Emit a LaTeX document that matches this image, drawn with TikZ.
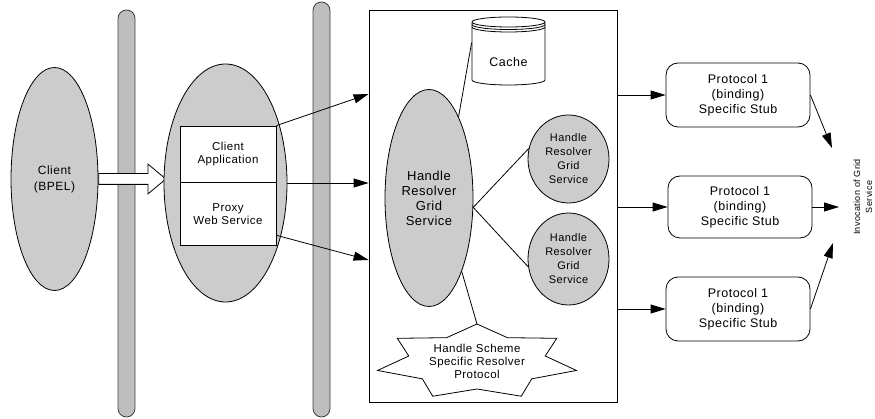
\documentclass[tikz,border=0pt]{standalone}
\usepackage{fontspec}
\setmainfont{Liberation Sans}[LetterSpace=4]
\usepackage{tikz}
\usetikzlibrary{shapes,arrows.meta,positioning}

\definecolor{shade}{RGB}{204,204,204}
\definecolor{pillarfill}{RGB}{190,190,190}

\begin{document}
\begin{tikzpicture}[x=1pt,y=1pt,line width=0.8pt,
	every node/.style={align=center},
	oval/.style={shape=ellipse, draw, fill=shade, inner sep=0pt},
	pillar/.style={draw=black!75, fill=pillarfill, rounded corners=8.5pt, minimum width=17pt, inner sep=0pt},
	panel/.style={draw, fill=white, minimum width=96pt, font=\fontsize{11.5}{13}\selectfont},
	stub/.style={draw, rounded corners=12pt, minimum width=144pt, minimum height=64pt, font=\fontsize{12.5}{15}\selectfont},
	arr/.style={-{Triangle[length=15pt,width=9pt]}}]
	\useasboundingbox (0,0) rectangle (875,-419);

	% firewalls
	\node[pillar, minimum height=407pt] (pillar1) at (126.5,-213.5) {};
	\node[pillar, minimum height=415pt] (pillar2) at (321.5,-209.5) {};

	% client side
	\node[oval, minimum width=87pt, minimum height=223pt, font=\fontsize{12}{16}\selectfont] (client) at (54.5,-179) {Client\\(BPEL)};
	\node[single arrow, draw, fill=white, inner sep=5pt, minimum height=67pt, single arrow head extend=9.5pt, single arrow tip angle=80, anchor=tail] (push) at (client.east) {};

	\node[oval, minimum width=123pt, minimum height=238pt] (gateway) at (225.5,-183) {};
	\node[panel, minimum height=56pt] (app) at (228,-154) {Client\\Application};
	\node[panel, minimum height=63pt, below=0pt of app] (proxy) {Proxy\\Web Service};

	% resolver
	\node[draw, fill=white, minimum width=248pt, minimum height=392pt] (resolver) at (493,-206) {};

	\draw[fill=white] (472,-22) -- (472,-80) arc[start angle=180, end angle=360, x radius=36.5, y radius=5] -- (545,-22) arc[start angle=0, end angle=360, x radius=36.5, y radius=5];
	\foreach \d in {2.5,5}
		\draw (472,-22-\d) arc[start angle=180, end angle=360, x radius=36.5, y radius=5];
	\node[minimum width=73pt, minimum height=46pt, font=\fontsize{12.5}{15}\selectfont] (cache) at (508.5,-62) {Cache};

	\node[oval, minimum width=88pt, minimum height=217pt, font=\fontsize{13}{15}\selectfont] (hrgs) at (429,-198) {Handle\\Resolver\\Grid\\Service};
	\node[oval, minimum width=81pt, minimum height=88pt, font=\fontsize{11}{14}\selectfont] (hr1) at (568.5,-159) {Handle\\Resolver\\Grid\\Service};
	\node[oval, minimum width=81pt, minimum height=92pt, font=\fontsize{11}{14}\selectfont] (hr2) at (568.5,-259) {Handle\\Resolver\\Grid\\Service};

	\draw[fill=white, shift={(477,-362)}] (90:102 and 38)
		\foreach \i in {0,...,6} { -- ({90+(\i+0.5)*360/7}:70 and 27) -- ({90+(\i+1)*360/7}:102 and 38) } -- cycle;
	\node[font=\fontsize{11.5}{13}\selectfont] (scheme) at (477,-361) {Handle Scheme\\Specific Resolver\\Protocol};
	\coordinate (startip) at (477,-324);

	% stubs
	\node[stub] (stub1) at (738,-95) {Protocol 1\\(binding)\\Specific Stub};
	\node[stub, minimum height=62pt] (stub2) at (740,-207) {Protocol 1\\(binding)\\Specific Stub};
	\node[stub] (stub3) at (738,-309) {Protocol 1\\(binding)\\Specific Stub};

	\node[rotate=90, font=\fontsize{9}{12}\selectfont] (invoke) at (863,-197) {Invocation of Grid\\Service};
	\coordinate (in1) at (832,-148);
	\coordinate (in2) at (839,-207);
	\coordinate (in3) at (833,-243);

	% connectors
	\draw[arr] (app.north east) -- ([yshift=112pt]resolver.west);
	\draw[arr] (gateway.east) -- (gateway.east -| resolver.west);
	\draw[arr] ([yshift=-21pt]proxy.east) -- ([yshift=-54pt]resolver.west);

	\draw (hrgs.70) -- ([yshift=-4pt]cache.north west);
	\draw (hr1.165) -- (hrgs.-12) -- (hr2.191);
	\draw (hrgs.-66) -- (startip);

	\foreach \s in {stub1,stub2,stub3}
		\draw[arr] (\s.west -| resolver.east) -- (\s.west);
	\draw[arr] (stub1.east) -- (in1);
	\draw[arr] (stub2.east) -- (in2);
	\draw[arr] (stub3.east) -- (in3);
\end{tikzpicture}
\end{document}
